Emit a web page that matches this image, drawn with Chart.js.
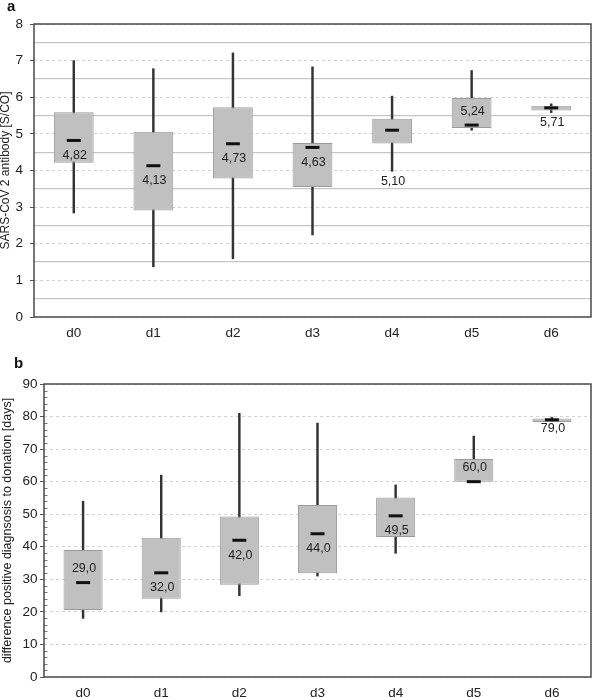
<!DOCTYPE html>
<html><head><meta charset="utf-8">
<script src="https://cdn.jsdelivr.net/npm/chart.js@4.4.1/dist/chart.umd.min.js"></script>
<style>
html,body{margin:0;padding:0;background:#fff;}
#wa{position:absolute;left:0;top:0;width:601px;height:340px;}
#wb{position:absolute;left:0;top:340px;width:601px;height:357px;}
</style></head><body>
<div id="wa"><canvas id="ca"></canvas></div>
<div id="wb"><canvas id="cb"></canvas></div>
<script>
// ---------- data ----------
const categories = ['d0', 'd1', 'd2', 'd3', 'd4', 'd5', 'd6'];

// panel a: SARS-CoV 2 antibody [S/CO]
const aMin    = [2.84, 1.37, 1.59, 2.24, 3.98, 5.10, 5.58];
const aQ1     = [4.21, 2.91, 3.78, 3.55, 4.74, 5.16, 5.64];
const aMedian = [4.82, 4.13, 4.73, 4.63, 5.10, 5.24, 5.71];
const aQ3     = [5.59, 5.06, 5.73, 4.75, 5.41, 5.98, 5.77];
const aMax    = [7.00, 6.78, 7.21, 6.83, 6.03, 6.73, 5.82];
const aHalfLines = [0.5, 1.5, 2.5, 3.5, 4.5, 5.5, 6.5, 7.5];

// panel b: difference positive diagnosis to donation [days]
const bMin    = [18, 20, 25, 31, 38, 60, 79];
const bQ1     = [20.6, 24.0, 28.3, 31.9, 43.0, 60.0, 78.3];
const bMedian = [29.0, 32.0, 42.0, 44.0, 49.5, 60.0, 79.0];
const bQ3     = [39.0, 42.8, 49.3, 52.8, 55.1, 67.0, 79.4];
const bMax    = [54, 62, 81, 78, 59, 74, 79.8];

// label placement (layout, not data)
const aLabelPlace = ['below', 'below', 'below', 'below', 'whisker', 'above', 'below'];
const bLabelPlace = ['above', 'below', 'below', 'below', 'below', 'above', 'tight'];

const FONT = "'Liberation Sans', Arial, sans-serif";
Chart.defaults.font.family = FONT;
Chart.defaults.color = '#222';

function makeChart(canvasId, cfg) {
  const boxes = categories.map((c, i) => [cfg.q1[i], cfg.q3[i]]);
  const whiskers = categories.map((c, i) => [cfg.min[i], cfg.max[i]]);

  const decorPlugin = {
    id: 'decor' + canvasId,
    beforeDraw(chart) {
      const ctx = chart.ctx;
      ctx.save();
      ctx.fillStyle = '#fff';
      ctx.fillRect(0, 0, chart.width, chart.height);
      ctx.restore();
    },
    afterDatasetsDraw(chart) {
      const ctx = chart.ctx;
      const {left, top, right, bottom} = chart.chartArea;
      const xs = chart.scales.x, ys = chart.scales.y;
      ctx.save();
      // minor ticks inside
      if (cfg.minorStep) {
        ctx.strokeStyle = '#777';
        ctx.lineWidth = 1;
        for (let v = cfg.minorStep; v < cfg.max_; v += cfg.minorStep) {
          if (v % cfg.majorStep === 0) continue;
          const y = Math.round(ys.getPixelForValue(v)) + 0.5;
          ctx.beginPath(); ctx.moveTo(left, y); ctx.lineTo(left + 3.5, y); ctx.stroke();
        }
      }
      // frame
      ctx.strokeStyle = '#4a4a4a';
      ctx.lineWidth = 1.5;
      ctx.strokeRect(left, top, right - left, bottom - top);
      // value labels
      ctx.fillStyle = '#222';
      ctx.font = '12.5px ' + FONT;
      ctx.textAlign = 'center';
      ctx.textBaseline = 'middle';
      categories.forEach((c, i) => {
        const x = xs.getPixelForValue(i) + 1;
        const ym = ys.getPixelForValue(cfg.median[i]);
        let y;
        const p = cfg.place[i];
        if (p === 'below') y = ym + 15;
        else if (p === 'above') y = ym - 14;
        else if (p === 'tight') y = ym + 9;
        else y = ys.getPixelForValue(cfg.min[i]) + 10;
        ctx.fillText(cfg.median[i].toFixed(cfg.dec).replace('.', ','), x, y);
      });
      // panel letter
      ctx.font = 'bold 15px ' + FONT;
      ctx.textAlign = 'left';
      ctx.textBaseline = 'alphabetic';
      ctx.fillStyle = '#111';
      ctx.fillText(cfg.letter, cfg.letterX, cfg.letterY);
      ctx.restore();
    }
  };

  const scales = {
    x: {
      type: 'category',
      offset: true,
      grid: {display: false, drawTicks: false},
      border: {display: false},
      ticks: {padding: 8, maxRotation: 0, font: {size: 13.5}, color: '#222'},
      afterFit: s => { s.height = cfg.xHeight; }
    },
    y: {
      type: 'linear',
      min: 0, max: cfg.max_,
      ticks: {stepSize: cfg.majorStep, padding: cfg.tickPad, font: {size: 13.5}, color: '#222'},
      grid: {color: '#d2d2d2', lineWidth: 1, drawTicks: true, tickLength: 4, tickColor: '#555', tickWidth: 1},
      border: {display: false, dash: [3, 3]},
      title: {display: true, text: cfg.title, font: {size: cfg.titleSize, lineHeight: 1}, padding: {top: cfg.titlePad, bottom: 0}, color: '#222'},
      afterFit: s => { s.width = cfg.yWidth; }
    }
  };
  if (cfg.halfLines) {
    scales.yHalf = {
      type: 'linear',
      position: 'right',
      min: 0, max: cfg.max_,
      afterBuildTicks: s => { s.ticks = cfg.halfLines.map(v => ({value: v})); },
      afterFit: s => { s.width = 0; },
      ticks: {display: false},
      grid: {color: '#c6c6c6', lineWidth: 1.3, drawTicks: false},
      border: {display: false}
    };
  }

  return new Chart(document.getElementById(canvasId), {
    data: {
      labels: categories,
      datasets: [
        {
          type: 'line', label: 'median', data: cfg.median, order: 1,
          showLine: false, pointStyle: 'line', pointRadius: 7, pointHoverRadius: 7,
          pointBorderWidth: 3, pointBorderColor: '#111', pointBackgroundColor: '#111', borderColor: '#111'
        },
        {
          type: 'bar', label: 'box', data: boxes, order: 2, grouped: false,
          backgroundColor: '#c0c0c0', borderColor: '#9c9c9c', borderWidth: 1, borderSkipped: false,
          barPercentage: 0.5, categoryPercentage: 1
        },
        {
          type: 'bar', label: 'whisker', data: whiskers, order: 3, grouped: false,
          backgroundColor: '#333', borderWidth: 0, barThickness: 1.8
        }
      ]
    },
    options: {
      responsive: true, maintainAspectRatio: false, animation: false, devicePixelRatio: 1,
      layout: {padding: {top: cfg.padTop, right: 2, left: 0, bottom: 0}},
      plugins: {legend: {display: false}, tooltip: {enabled: false}},
      events: [],
      scales
    },
    plugins: [decorPlugin]
  });
}

makeChart('ca', {
  min: aMin, q1: aQ1, median: aMedian, q3: aQ3, max: aMax,
  place: aLabelPlace, dec: 2, max_: 8, majorStep: 1, halfLines: aHalfLines,
  title: 'SARS-CoV 2 antibody [S/CO]', titleSize: 12, titlePad: 0,
  yWidth: 34, xHeight: 23, padTop: 24, tickPad: 7,
  letter: 'a', letterX: 7, letterY: 11
});

makeChart('cb', {
  min: bMin, q1: bQ1, median: bMedian, q3: bQ3, max: bMax,
  place: bLabelPlace, dec: 1, max_: 90, majorStep: 10, minorStep: 2,
  title: 'difference positive diagnsosis to donation [days]', titleSize: 12.5, titlePad: 1,
  yWidth: 44, xHeight: 20, padTop: 44, tickPad: 2.5,
  letter: 'b', letterX: 14, letterY: 28
});
</script>
</body></html>
